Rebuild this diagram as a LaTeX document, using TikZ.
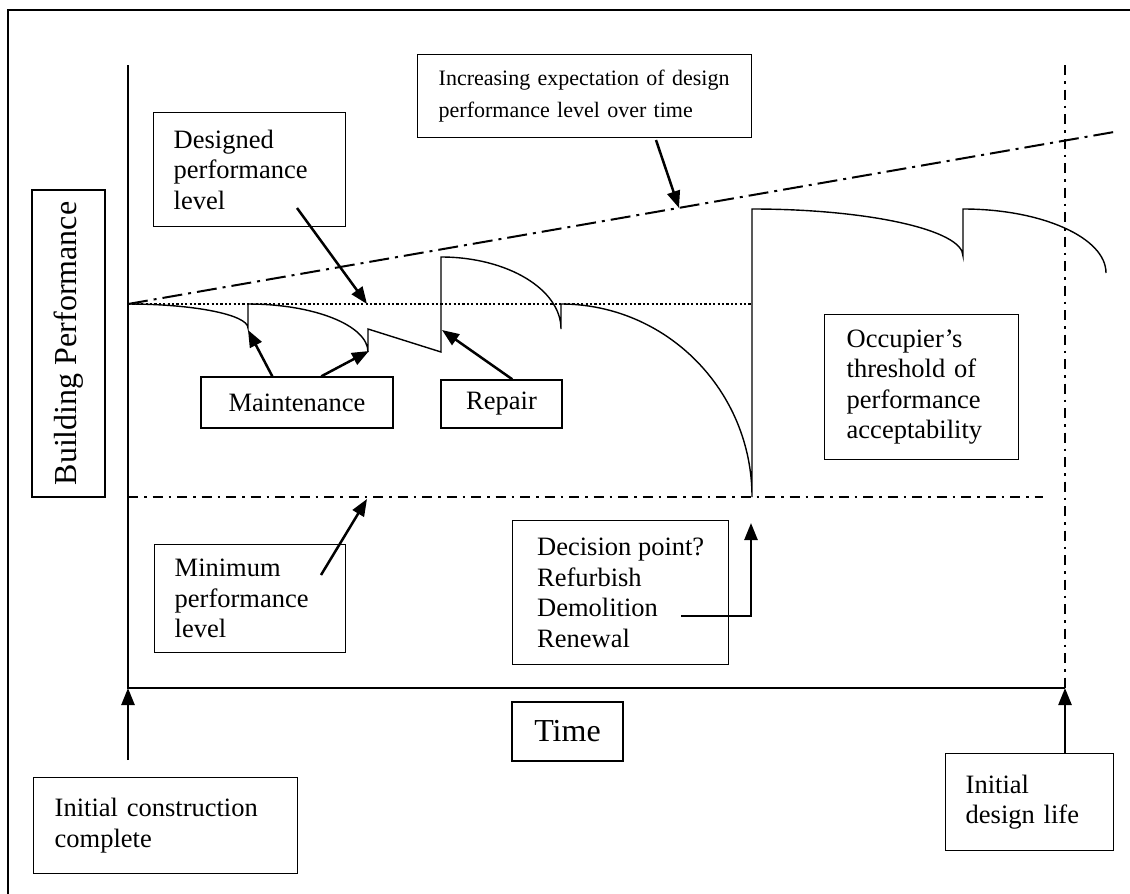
\documentclass[tikz,border=0pt]{standalone}
\usepackage{fontspec}
\setmainfont{Liberation Serif}
\usetikzlibrary{arrows.meta}
\newcommand\bodysize{\fontsize{26.5pt}{30.5pt}\selectfont}
\newcommand\smallbody{\fontsize{22pt}{32pt}\selectfont}
\newcommand\axissize{\fontsize{32pt}{36pt}\selectfont}
\begin{document}
\begin{tikzpicture}[x=1pt,y=-1pt,
  box/.style={draw, line width=1.4pt, inner ysep=0pt, font=\bodysize},
  tbox/.style={box, anchor=north west, align=left},
  ptr/.style={line width=2.5pt, -{Triangle[length=17pt,width=13pt]}},
  axisline/.style={line width=1.4pt},
  curve/.style={line width=1.4pt, line join=miter},
  longdashdot/.style={line width=2pt, dash pattern=on 20pt off 6pt on 3pt off 6pt},
  shortdashdot/.style={line width=2pt, dash pattern=on 10pt off 6pt on 2.5pt off 6pt},
  dotline/.style={line width=2.2pt, dash pattern=on 2.2pt off 2.2pt}]
\useasboundingbox (0,0) rectangle (1130,894);
% outer frame
\draw[line width=1.6pt] (8,894) -- (8,10) -- (1130,10);

% axes
\coordinate (origin) at (128,688);
\coordinate (ytop) at (128,65);
\coordinate (xend) at (1065,688);
\draw[axisline] (ytop) -- (origin) -- (xend);

% reference levels
\coordinate (designL) at (128,304);
\coordinate (designR) at (752,304);
\draw[dotline] (designL) -- (designR);
\coordinate (expectR) at (1114,132);
\draw[longdashdot] (designL) -- (expectR);
\coordinate (minL) at (128,497);
\coordinate (minR) at (1043,497);
\draw[shortdashdot] (minL) -- (minR);
\coordinate (lifeTop) at (1065,65);
\draw[shortdashdot] (lifeTop) -- (xend);

% performance curve over time
\draw[curve] (128,304) .. controls (194.2,304) and (248,314.8) .. (248,328)
  -- (248,304) .. controls (314.2,304) and (368,325.5) .. (368,352)
  -- (368,329) -- (441,352)
  -- (441,257) .. controls (507.2,257) and (561,289.3) .. (561,329)
  -- (561,304) .. controls (666.4,304) and (752,390.5) .. (752,497)
  -- (752,209) .. controls (868.5,209) and (963,230.1) .. (963,256)
  -- (963,209) .. controls (1041.9,209) and (1106,237.7) .. (1106,273);

% label boxes
\node[box, rotate=90, font=\axissize, minimum width=307pt, minimum height=73pt] (perf) at (68.5,343.5) {Building Performance};
\node[box, font=\axissize, minimum width=111pt, minimum height=59pt] (time) at (567.5,731.5) {Time};
\node[tbox, minimum height=114pt, inner xsep=20pt, text width=152pt] (designed) at (153,112) {Designed\\performance\\level};
\node[tbox, font=\smallbody, minimum height=83pt, inner xsep=21pt, text width=292pt] (expect) at (417,54) {Increasing expectation of design\\performance level over time};
\node[box, minimum width=192pt, minimum height=51pt] (maint) at (297,402.5) {Maintenance};
\node[box, minimum width=121pt, minimum height=48pt] (repair) at (501.5,404) {Repair};
\node[tbox, minimum height=145pt, inner xsep=22pt, text width=150pt] (occ) at (824,314) {Occupier’s\\threshold of\\performance\\acceptability};
\node[tbox, minimum height=108pt, inner xsep=20pt, text width=151pt] (minimum) at (154,544) {Minimum\\performance\\level};
\node[tbox, minimum height=144pt, minimum width=216pt] (decision) at (512,520) {Decision point?\\Refurbish\\Demolition\\Renewal};
\node[tbox, minimum height=96pt, inner xsep=21pt, text width=222pt] (construct) at (33,777) {Initial construction\\complete};
\node[tbox, minimum height=97pt, inner xsep=20pt, text width=128pt] (life) at (945,753) {Initial\\design life};

% pointers
\coordinate (designedFrom) at (297,208);
\coordinate (designedTo) at (367,304);
\draw[ptr] (designedFrom) -- (designedTo);
\coordinate (expectFrom) at (656,140);
\coordinate (expectTo) at (679,208);
\draw[ptr] (expectFrom) -- (expectTo);
\coordinate (maintTo1) at (248,330);
\coordinate (maintTo2) at (369,351);
\draw[ptr] ([xshift=72pt]maint.north west) -- (maintTo1);
\draw[ptr] ([xshift=121pt]maint.north west) -- (maintTo2);
\coordinate (repairTo) at (442,330);
\draw[ptr] ([xshift=72pt]repair.north west) -- (repairTo);
\coordinate (minFrom) at (321,575);
\coordinate (minTo) at (367,499);
\draw[ptr] (minFrom) -- (minTo);
\coordinate (decFrom) at (681,616);
\coordinate (decTo) at (751,523);
\draw[ptr, line join=miter] (decFrom) -| (decTo);
\coordinate (constructFrom) at (128,760);
\draw[ptr] (constructFrom) -- (origin);
\draw[ptr] (life.north -| xend) -- (xend);
\end{tikzpicture}
\end{document}
